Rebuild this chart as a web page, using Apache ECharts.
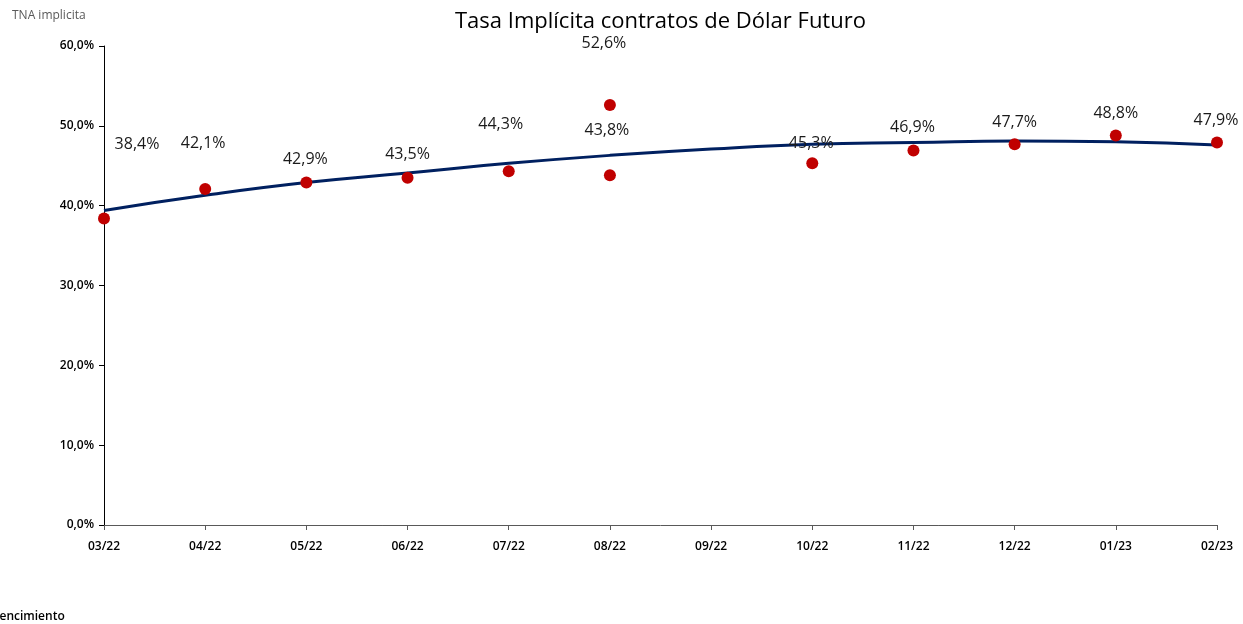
<!DOCTYPE html>
<html>
<head>
<meta charset="utf-8">
<script src="https://cdn.jsdelivr.net/npm/echarts@6/dist/echarts.min.js"></script>
<style>
  html, body { margin: 0; padding: 0; background: #fff; }
  #chart { width: 1243px; height: 624px; }
</style>
</head>
<body>
<div id="chart"></div>
<script>
  // vencimientos (eje x)
  const months = ['03/22','04/22','05/22','06/22','07/22','08/22','09/22','10/22','11/22','12/22','01/23','02/23']
  // tasa implicita por contrato (dos contratos en 08/22)
  const pointMonths = ['03/22','04/22','05/22','06/22','07/22','08/22','08/22','10/22','11/22','12/22','01/23','02/23']
  const pointRates = [38.4, 42.1, 42.9, 43.5, 44.3, 52.6, 43.8, 45.3, 46.9, 47.7, 48.8, 47.9]
  // linea de tendencia
  const trendRates = [39.4, 41.3, 42.9, 44.1, 45.3, 46.3, 47.1, 47.7, 47.9, 48.1, 48.0, 47.6]
  const yTicks = [0, 10, 20, 30, 40, 50, 60]

  // desplazamiento de cada etiqueta respecto a su punto
  const labelOffsets = [[33,-74],[-2,-45],[-1,-23],[0,-23],[-8,-47],[-6,-62],[-3,-45],[-1,-20],[-1,-23],[0,-22],[0,-22],[-1,-22]]

  const fmt = v => v.toFixed(1).replace('.', ',') + '%'

  let dom = document.getElementById('chart')
  let myChart = echarts.init(dom)

  let scatterData = pointRates.map((v, i) => ({
      value: [pointMonths[i], v],
      label: { offset: labelOffsets[i] }
  }))

  let option = {
      animation: false,
      textStyle: { fontFamily: 'Open Sans' },
      title: {
          text: 'Tasa Implícita contratos de Dólar Futuro',
          left: 450,
          top: 6,
          textStyle: { fontSize: 22, fontWeight: 'normal', color: '#000', fontFamily: 'Open Sans' }
      },
      graphic: [
          { type: 'text', left: 12, top: 10, style: { text: 'TNA implicita', fontSize: 12, fill: '#595959', fontFamily: 'Open Sans' } },
          { type: 'text', left: -8, top: 611, style: { text: 'Vencimiento', fontSize: 12, fill: '#000', fontFamily: 'Open Sans', fontWeight: 600 } }
      ],
      grid: { left: 104, right: 26, top: 46, bottom: 99 },
      xAxis: {
          type: 'category',
          data: months,
          boundaryGap: false,
          axisLine: { lineStyle: { color: '#595959', width: 1 } },
          axisTick: { show: true, length: 5, lineStyle: { color: '#595959' } },
          axisLabel: { color: '#000', fontSize: 12, fontWeight: 600, margin: 16, interval: 0 }
      },
      yAxis: {
          type: 'value',
          min: yTicks[0],
          max: yTicks[yTicks.length - 1],
          interval: 10,
          splitLine: { show: false },
          axisLine: { show: true, lineStyle: { color: '#000', width: 1 } },
          axisTick: { show: true, length: 5, lineStyle: { color: '#000' } },
          axisLabel: { color: '#000', fontSize: 12, fontWeight: 600, margin: 10, formatter: v => fmt(v) }
      },
      series: [
          {
              name: 'Tendencia',
              type: 'line',
              data: trendRates,
              smooth: true,
              symbol: 'none',
              lineStyle: { color: '#002060', width: 3 },
              z: 2
          },
          {
              name: 'TNA',
              type: 'scatter',
              data: scatterData,
              symbolSize: 12,
              itemStyle: { color: '#C00000', opacity: 1 },
              label: {
                  show: true,
                  position: 'inside',
                  fontSize: 16,
                  color: '#1a1a1a',
                  formatter: p => fmt(p.value[1])
              },
              z: 3
          }
      ]
  }

  myChart.setOption(option, true)
</script>
</body>
</html>
